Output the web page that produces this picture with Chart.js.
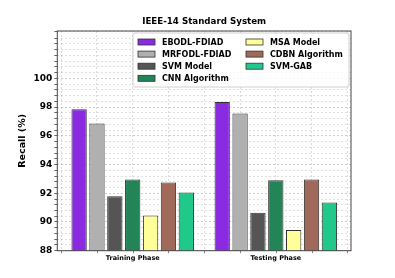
<!DOCTYPE html>
<html>
<head>
<meta charset="utf-8">
<script src="https://cdn.jsdelivr.net/npm/chart.js@4"></script>
<style>
body { margin: 0; background: #fff; }
</style>
</head>
<body>
<canvas id="recallChart" width="395" height="278"></canvas>
<script>
// Data
const chartTitle = 'IEEE-14 Standard System';
const phases = ['Training Phase', 'Testing Phase'];
const models = ['EBODL-FDIAD', 'MRFODL-FDIAD', 'SVM Model', 'CNN Algorithm', 'MSA Model', 'CDBN Algorithm', 'SVM-GAB'];
const trainingRecall = [97.85, 96.85, 91.8, 92.95, 90.45, 92.75, 92.05];
const testingRecall = [98.35, 97.55, 90.65, 92.9, 89.45, 92.95, 91.35];
const yTickLabels = [88, 90, 92, 94, 96, 98, 100];

const barColors = ['#8a2be2', '#b0b0b0', '#555555', '#238457', '#ffff99', '#a0695a', '#20c98a'];

const datasets = models.map((name, i) => ({
  label: name,
  data: [{ x: 0, y: trainingRecall[i] }, { x: 1, y: testingRecall[i] }],
  backgroundColor: barColors[i],
  borderColor: '#333',
  borderWidth: 1,
  categoryPercentage: 0.874,
  barPercentage: 0.857
}));

// Frame, title and a two-column legend (column by column, like the source)
const frameAndLegend = {
  id: 'frameAndLegend',
  afterDraw(chart) {
    const ctx = chart.ctx;
    const a = chart.chartArea;
    ctx.save();
    ctx.strokeStyle = '#444';
    ctx.lineWidth = 1;
    ctx.strokeRect(a.left, a.top, a.right - a.left, a.bottom - a.top);

    // small tick marks under the bottom axis
    const xg = chart.scales.xg;
    ctx.strokeStyle = '#666';
    ctx.lineWidth = 0.8;
    xg.ticks.forEach(t => {
      const px = Math.round(xg.getPixelForValue(t.value)) + 0.5;
      ctx.beginPath();
      ctx.moveTo(px, a.bottom);
      ctx.lineTo(px, a.bottom + 2.5);
      ctx.stroke();
    });

    ctx.fillStyle = '#000';
    ctx.font = 'bold 8.7px "DejaVu Sans"';
    ctx.textAlign = 'center';
    ctx.textBaseline = 'middle';
    ctx.fillText(chartTitle, (a.left + a.right) / 2, 22);

    // legend box
    const bx = 133, by = 33, bw = 216, bh = 54;
    ctx.fillStyle = 'rgba(255,255,255,0.85)';
    ctx.strokeStyle = '#d0d0d0';
    ctx.lineWidth = 1;
    ctx.beginPath();
    if (ctx.roundRect) ctx.roundRect(bx, by, bw, bh, 2); else ctx.rect(bx, by, bw, bh);
    ctx.fill();
    ctx.stroke();

    ctx.font = 'bold 8px "DejaVu Sans"';
    ctx.textAlign = 'left';
    chart.data.datasets.forEach((ds, i) => {
      const col = Math.floor(i / 4);
      const row = i % 4;
      const px = col === 0 ? 138 : 246;
      const cy = 42 + row * 12.1;
      ctx.fillStyle = ds.backgroundColor;
      ctx.fillRect(px, cy - 3, 17, 6);
      ctx.strokeStyle = '#333';
      ctx.lineWidth = 0.8;
      ctx.strokeRect(px, cy - 3, 17, 6);
      ctx.fillStyle = '#000';
      ctx.fillText(ds.label, px + 24, cy + 0.5);
    });
    ctx.restore();
  }
};

new Chart(document.getElementById('recallChart'), {
  type: 'bar',
  data: { datasets: datasets },
  options: {
    responsive: false,
    animation: false,
    layout: { padding: { top: 31, right: 44, left: 0, bottom: 0 } },
    plugins: {
      legend: { display: false },
      tooltip: { enabled: false }
    },
    scales: {
      x: {
        type: 'linear',
        position: 'bottom',
        offset: false,
        min: -0.527,
        max: 1.5255,
        grid: { display: false, drawTicks: false, offset: false },
        border: { display: false },
        ticks: {
          stepSize: 1,
          includeBounds: false,
          autoSkip: false,
          maxRotation: 0,
          padding: 4,
          color: '#000',
          font: { family: 'DejaVu Sans', size: 6.5, weight: 'bold' },
          callback: v => phases[v] || ''
        },
        afterFit: s => { s.height = 27.3; }
      },
      xg: {
        type: 'linear',
        position: 'bottom',
        offset: false,
        min: -0.527,
        max: 1.5255,
        grid: {
          offset: false,
          drawTicks: false,
          color: 'rgba(0,0,0,0.14)'
        },
        border: { display: false, dash: [2, 2] },
        ticks: {
          stepSize: 0.25,
          includeBounds: false,
          autoSkip: false,
          display: false
        },
        afterFit: s => { s.height = 0; }
      },
      y: {
        min: 88,
        max: 103.3,
        grid: {
          color: ctx => yTickLabels.includes(Math.round(ctx.tick.value * 100) / 100) ? 'rgba(0,0,0,0.2)' : 'rgba(0,0,0,0.12)',
          tickColor: '#666',
          tickLength: 3
        },
        border: { display: false, dash: [2, 2] },
        ticks: {
          stepSize: 0.4,
          autoSkip: false,
          padding: 2,
          color: '#000',
          font: { family: 'DejaVu Sans', size: 9, weight: 'bold' },
          callback: v => {
            const r = Math.round(v * 100) / 100;
            return yTickLabels.includes(r) ? String(r) : '';
          }
        },
        title: {
          display: true,
          text: 'Recall (%)',
          color: '#000',
          font: { family: 'DejaVu Sans', size: 9.5, weight: 'bold' },
          padding: { top: 17, bottom: 0 }
        },
        afterFit: s => { s.width = 57.3; }
      }
    }
  },
  plugins: [frameAndLegend]
});
</script>
</body>
</html>
